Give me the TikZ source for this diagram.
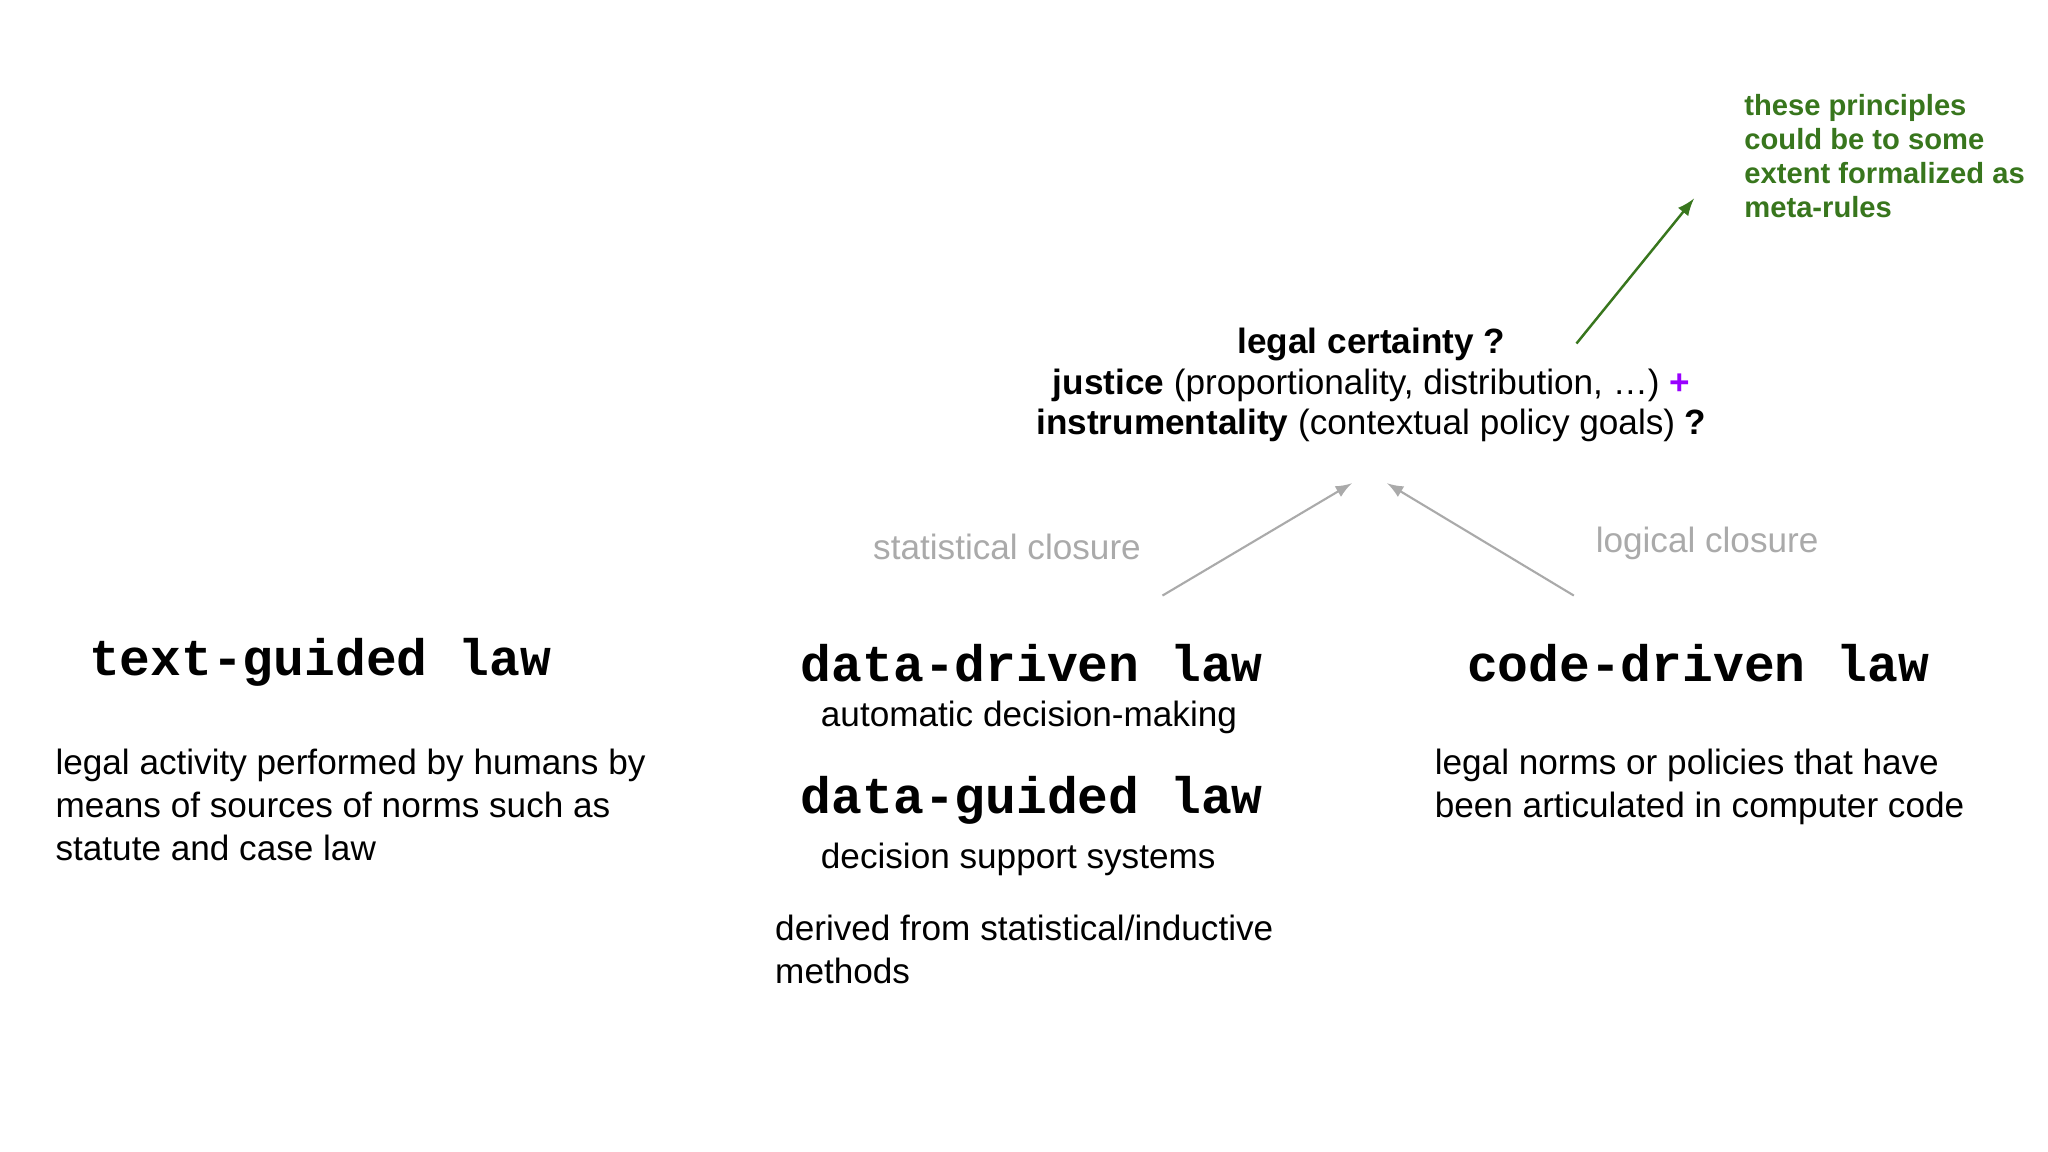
\documentclass[tikz,border=0pt]{standalone}
\usepackage{fontspec}
\setmainfont{Liberation Sans}
\setmonofont{Liberation Mono}
\definecolor{dgreen}{HTML}{38761D}
\definecolor{lgray}{HTML}{AAAAAA}
\definecolor{purp}{HTML}{9900FF}
\begin{document}
\begin{tikzpicture}[x=0.01306cm,y=-0.01306cm,
  title/.style={font=\fontsize{14.6}{16}\selectfont\ttfamily\bfseries,inner sep=0},
  body/.style={font=\fontsize{10}{12.25}\selectfont,align=left,anchor=north west,inner sep=0},
  top/.style={font=\fontsize{10}{11.5}\selectfont,align=center,inner sep=0},
  glabel/.style={font=\fontsize{10}{12}\selectfont,text=lgray,inner sep=0},
  garrow/.style={draw=lgray,line width=0.6pt,-latex},
  green/.style={font=\fontsize{8.3}{9.6}\selectfont\bfseries,text=dgreen,align=left,anchor=north west,inner sep=0}]
\useasboundingbox[fill=white] (0,0) rectangle (1568,882);
\node[title] (tg) at (245,507) {text-guided law};
\node[body] (tgd) at (42,573) {legal activity performed by humans by\\means of sources of norms such as\\statute and case law};
\node[title] (dd) at (790,508) {data-driven law};
\node[body] (ddd) at (628,536) {automatic decision-making};
\node[title] (dg) at (790,613) {data-guided law};
\node[body] (dgd) at (628,645) {decision support systems};
\node[body] (der) at (593,700) {derived from statistical/inductive\\methods};
\node[title] (cd) at (1300,508) {code-driven law};
\node[body] (cdd) at (1098,573) {legal norms or policies that have\\been articulated in computer code};
\node[top] (goals) at (1050,295) {\textbf{legal certainty ?}\\\textbf{justice} (proportionality, distribution, \dots) \textcolor{purp}{\textbf{+}}\\\textbf{instrumentality} (contextual policy goals) \textbf{?}};
\coordinate (s1) at (890,456); \coordinate (s2) at (1035,370);
\coordinate (l1) at (1205,456); \coordinate (l2) at (1062,370);
\draw[garrow] (s1) -- (s2);
\draw[garrow] (l1) -- (l2);
\node[glabel] (sc) at (771,419) {statistical closure};
\node[glabel] (lc) at (1307,416) {logical closure};
\node[green] (gt) at (1335,72) {these principles\\could be to some\\extent formalized as\\meta-rules};
\coordinate (g1) at (1207,263); \coordinate (g2) at (1297,152);
\draw[draw=dgreen,line width=0.7pt,-latex] (g1) -- (g2);
\end{tikzpicture}
\end{document}
